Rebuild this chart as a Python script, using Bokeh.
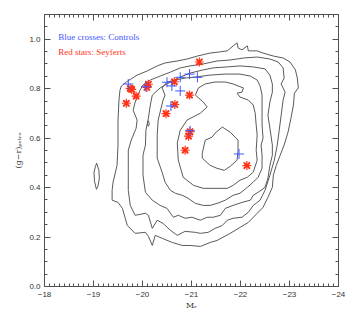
import numpy as np
from bokeh.plotting import figure
from bokeh.models import Range1d, LinearAxis, Label, FixedTicker, CustomJSTickFormatter
from bokeh.embed import file_html
from bokeh.resources import INLINE

# ---------------- data ----------------
x_ticks = [-18, -19, -20, -21, -22, -23, -24]
x_tick_labels = ["\u221218", "\u221219", "\u221220", "\u221221", "\u221222", "\u221223", "\u221224"]
y_ticks = [0, 0.2, 0.4, 0.6, 0.8, 1]
y_tick_labels = ["0.0", "0.2", "0.4", "0.6", "0.8", "1.0"]
x_title = "M\u1d63"
y_title = "(g\u2212r)\u209a\u2091\u209c\u1d63\u2092"

# Seyferts (red stars)
sey_mr = [-19.67, -19.75, -19.78, -19.87, -20.09, -20.12, -20.48, -20.65, -20.66, -20.96, -21.16, -20.97, -20.94, -20.87, -22.13]
sey_gr = [0.741, 0.801, 0.797, 0.770, 0.805, 0.818, 0.699, 0.828, 0.736, 0.774, 0.908, 0.626, 0.608, 0.551, 0.489]

# Controls (blue crosses)
ctl_mr = [-19.71, -20.07, -20.50, -20.60, -20.77, -20.96, -21.12, -20.77, -20.58, -20.97, -21.97]
ctl_gr = [0.819, 0.808, 0.826, 0.811, 0.846, 0.859, 0.846, 0.791, 0.730, 0.630, 0.536]

# density contours (outermost c1 -> innermost c6)
c1_x = [-19.57, -19.67, -19.89, -20.10, -20.30, -20.46, -20.71, -20.91, -21.12, -21.38, -21.59, -21.73, -21.85, -21.93, -21.95, -22.03, -22.14, -22.16, -22.34, -22.46, -22.67, -22.87, -23.01, -23.12, -23.16, -23.18, -23.10, -23.08, -23.03, -22.97, -22.89, -22.81, -22.73, -22.67, -22.65, -22.56, -22.46, -22.34, -22.16, -21.99, -21.79, -21.52, -21.38, -21.18, -20.97, -20.81, -20.61, -20.40, -20.26, -20.20, -20.12, -20.06, -19.85, -19.69, -19.59, -19.50, -19.38, -19.38, -19.40, -19.48, -19.50, -19.50, -19.52, -19.54, -19.57]
c1_y = [0.811, 0.827, 0.855, 0.872, 0.892, 0.904, 0.912, 0.920, 0.932, 0.944, 0.949, 0.953, 0.973, 0.985, 0.965, 0.957, 0.973, 0.953, 0.953, 0.944, 0.932, 0.924, 0.908, 0.876, 0.843, 0.803, 0.782, 0.734, 0.681, 0.624, 0.572, 0.531, 0.490, 0.450, 0.401, 0.361, 0.320, 0.296, 0.259, 0.239, 0.215, 0.186, 0.178, 0.162, 0.166, 0.166, 0.178, 0.195, 0.207, 0.166, 0.203, 0.219, 0.215, 0.247, 0.316, 0.340, 0.349, 0.389, 0.422, 0.490, 0.572, 0.673, 0.754, 0.794, 0.811]

c2_x = [-19.95, -20.01, -20.16, -20.36, -20.57, -20.77, -20.97, -21.24, -21.52, -21.79, -22.06, -22.34, -22.60, -22.77, -22.87, -22.89, -22.83, -22.91, -22.87, -22.83, -22.79, -22.75, -22.69, -22.60, -22.50, -22.40, -22.26, -22.16, -22.03, -21.85, -21.73, -21.63, -21.48, -21.34, -21.18, -21.08, -20.87, -20.71, -20.57, -20.42, -20.30, -20.20, -20.12, -20.06, -19.85, -19.75, -19.71, -19.71, -19.71, -19.77, -19.87, -19.89, -19.81, -19.85, -19.91, -19.95]
c2_y = [0.794, 0.815, 0.835, 0.851, 0.867, 0.884, 0.892, 0.900, 0.912, 0.916, 0.924, 0.928, 0.920, 0.908, 0.884, 0.843, 0.819, 0.786, 0.754, 0.693, 0.632, 0.572, 0.511, 0.450, 0.389, 0.349, 0.328, 0.300, 0.280, 0.276, 0.268, 0.247, 0.235, 0.219, 0.215, 0.219, 0.223, 0.207, 0.227, 0.255, 0.268, 0.235, 0.288, 0.296, 0.288, 0.328, 0.389, 0.470, 0.551, 0.592, 0.640, 0.673, 0.713, 0.746, 0.774, 0.794]

c3_x = [-20.20, -20.36, -20.57, -20.77, -20.97, -21.24, -21.44, -21.73, -21.99, -22.26, -22.50, -22.60, -22.65, -22.65, -22.60, -22.56, -22.60, -22.65, -22.65, -22.60, -22.56, -22.50, -22.36, -22.26, -22.20, -22.03, -21.85, -21.69, -21.59, -21.44, -21.32, -21.18, -21.01, -20.87, -20.73, -20.63, -20.50, -20.36, -20.20, -20.06, -20.01, -20.01, -20.06, -20.07, -20.12, -20.16, -20.20]
c3_y = [0.774, 0.803, 0.827, 0.847, 0.863, 0.876, 0.884, 0.888, 0.892, 0.888, 0.880, 0.855, 0.819, 0.786, 0.746, 0.693, 0.640, 0.572, 0.531, 0.490, 0.438, 0.401, 0.381, 0.369, 0.349, 0.340, 0.328, 0.316, 0.288, 0.280, 0.280, 0.268, 0.280, 0.276, 0.288, 0.280, 0.316, 0.328, 0.349, 0.381, 0.450, 0.531, 0.572, 0.632, 0.681, 0.734, 0.774]

c4_x = [-20.46, -20.40, -20.50, -20.67, -20.87, -21.08, -21.38, -21.69, -21.99, -22.20, -22.34, -22.40, -22.44, -22.44, -22.44, -22.44, -22.46, -22.42, -22.44, -22.44, -22.36, -22.26, -22.14, -21.99, -21.85, -21.69, -21.52, -21.38, -21.24, -21.08, -20.93, -20.81, -20.67, -20.57, -20.46, -20.40, -20.30, -20.30, -20.30, -20.32, -20.38, -20.42, -20.46]
c4_y = [0.774, 0.803, 0.827, 0.835, 0.843, 0.847, 0.855, 0.859, 0.859, 0.851, 0.835, 0.811, 0.774, 0.746, 0.705, 0.653, 0.600, 0.572, 0.531, 0.478, 0.442, 0.422, 0.401, 0.377, 0.369, 0.349, 0.336, 0.328, 0.328, 0.336, 0.357, 0.369, 0.377, 0.389, 0.422, 0.462, 0.519, 0.572, 0.612, 0.673, 0.722, 0.754, 0.774]

c5_x = [-21.08, -21.14, -21.28, -21.48, -21.69, -21.85, -21.95, -22.06, -22.03, -21.93, -21.99, -22.16, -22.26, -22.30, -22.32, -22.34, -22.32, -22.34, -22.26, -22.14, -21.99, -21.85, -21.73, -21.44, -21.24, -21.04, -20.83, -20.73, -20.71, -20.77, -20.91, -21.18, -21.32, -21.24, -21.08]
c5_y = [0.774, 0.803, 0.819, 0.827, 0.827, 0.819, 0.811, 0.803, 0.786, 0.782, 0.766, 0.754, 0.734, 0.701, 0.653, 0.612, 0.551, 0.511, 0.462, 0.442, 0.430, 0.409, 0.397, 0.397, 0.397, 0.409, 0.442, 0.511, 0.580, 0.632, 0.673, 0.701, 0.726, 0.746, 0.774]

c6_x = [-21.22, -21.28, -21.42, -21.48, -21.63, -21.79, -21.95, -21.95, -21.93, -21.79, -21.67, -21.52, -21.38, -21.22, -21.22]
c6_y = [0.539, 0.592, 0.604, 0.620, 0.645, 0.624, 0.592, 0.551, 0.511, 0.486, 0.470, 0.478, 0.490, 0.519, 0.539]

# small isolated contour islands
isl1_x = [-19.065, -19.11, -19.12, -19.09, -19.06, -19.02, -19.01, -19.04, -19.065]
isl1_y = [0.499, 0.470, 0.438, 0.405, 0.393, 0.426, 0.462, 0.486, 0.499]
isl2_x = [-20.12, -20.14, -20.12, -20.10, -20.12]
isl2_y = [0.670, 0.658, 0.648, 0.658, 0.670]

contours_x = [c1_x, c2_x, c3_x, c4_x, c5_x, c6_x, isl1_x, isl2_x]
contours_y = [c1_y, c2_y, c3_y, c4_y, c5_y, c6_y, isl1_y, isl2_y]

# ---------------- styling ----------------
AXC = "#505050"
TXT = "#333333"
CONT = "#5a5a5a"
RED = "#ff3318"
BLUE = "#3f55ff"

p = figure(frame_width=294, frame_height=272,
           x_range=Range1d(-18, -24), y_range=Range1d(0, 1.1),
           output_backend="svg", toolbar_location=None,
           min_border_left=44, min_border_right=10,
           min_border_top=14, min_border_bottom=26)
p.grid.visible = False
p.background_fill_color = "white"
p.border_fill_color = "white"
p.outline_line_color = AXC

x_minor = [float(v) for v in np.round(np.arange(-24.0, -17.95, 0.1), 2)]
y_minor = [float(v) for v in np.round(np.arange(0.0, 1.101, 0.05), 3)]

xt = FixedTicker(ticks=x_ticks, minor_ticks=x_minor)
yt = FixedTicker(ticks=y_ticks, minor_ticks=y_minor)


def style(ax):
    ax.axis_line_color = AXC
    ax.major_tick_line_color = AXC
    ax.minor_tick_line_color = AXC
    ax.major_tick_in = 6
    ax.major_tick_out = 0
    ax.minor_tick_in = 3
    ax.minor_tick_out = 0
    ax.major_label_text_font = "Liberation Sans"
    ax.major_label_text_color = TXT
    ax.major_label_text_font_size = "8px"
    ax.axis_label_text_font = "DejaVu Serif"
    ax.axis_label_text_font_style = "normal"
    ax.axis_label_text_color = TXT
    ax.axis_label_text_font_size = "8px"


xa = p.xaxis[0]
xa.ticker = xt
xa.major_label_overrides = {t: s for t, s in zip(x_ticks, x_tick_labels)}
style(xa)
xa.major_label_standoff = 5
xa.axis_label = x_title
xa.axis_label_standoff = 1

ya = p.yaxis[0]
ya.ticker = yt
ya.major_label_overrides = {t: s for t, s in zip(y_ticks, y_tick_labels)}
style(ya)
ya.major_label_standoff = 4
ya.axis_label = y_title
ya.axis_label_standoff = 3

blank = CustomJSTickFormatter(code="return '';")
top = LinearAxis(ticker=FixedTicker(ticks=x_ticks, minor_ticks=x_minor), formatter=blank)
style(top)
top.major_label_standoff = 0
p.add_layout(top, "above")
right = LinearAxis(ticker=FixedTicker(ticks=y_ticks, minor_ticks=y_minor), formatter=blank)
style(right)
right.major_label_standoff = 0
p.add_layout(right, "right")

# contours
for cx, cy in zip(contours_x, contours_y):
    p.line(cx, cy, line_color=CONT, line_width=1)

# Seyferts: red asterisks
p.scatter(sey_mr, sey_gr, marker="asterisk", size=9, line_color=RED, line_width=1.2)
p.scatter(sey_mr, sey_gr, marker="x", size=8, line_color=RED, line_width=2.0)

# Controls: blue crosses
p.scatter(ctl_mr, ctl_gr, marker="cross", size=10, line_color=BLUE, line_width=1)

# legend-like texts
p.add_layout(Label(x=-18.28, y=1.009, text="Blue crosses: Controls", text_color=BLUE,
                   text_font="Liberation Serif", text_font_size="9px",
                   text_align="left", text_baseline="middle"))
p.add_layout(Label(x=-18.28, y=0.949, text="Red stars: Seyferts", text_color=RED,
                   text_font="Liberation Serif", text_font_size="9px",
                   text_align="left", text_baseline="middle"))

open("out.html", "w").write(file_html(p, INLINE))
